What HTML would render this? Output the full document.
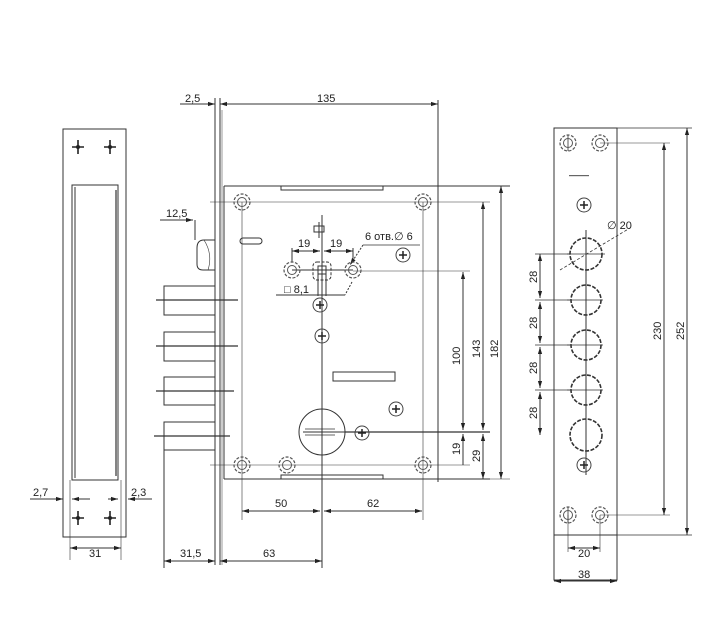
<!DOCTYPE html>
<html><head><meta charset="utf-8"><style>
html,body{margin:0;padding:0;background:#fff;}
svg{display:block}
text{font-family:"Liberation Sans",sans-serif;font-size:11px;fill:#222}
</style></head><body>
<svg width="720" height="635" viewBox="0 0 720 635" xmlns="http://www.w3.org/2000/svg">
<defs>
<marker id="a" viewBox="0 0 10 10" refX="10" refY="5" markerWidth="7" markerHeight="7" orient="auto-start-reverse"><path d="M0,2 L10,5 L0,8 z" fill="#222"/></marker>
<g id="cr"><path d="M-6,0 H6 M0,-7 V7" stroke="#222" stroke-width="1.6"/><circle r="2" fill="#222"/></g>
<g id="sc"><circle r="8" fill="none" stroke="#555" stroke-width="1.2" stroke-dasharray="3,1.5"/><circle r="4.5" fill="none" stroke="#555"/></g>
<g id="ps"><circle r="7" fill="none" stroke="#444"/><path d="M-4,0H4M0,-4V4" stroke="#222" stroke-width="1.5"/></g>
</defs>
<g stroke="#333" stroke-width="1" fill="none">
<rect x="63" y="129" width="63" height="408"/>
<rect x="72" y="185" width="46" height="295"/>
<line x1="75" y1="187" x2="75" y2="478"/>
<line x1="116" y1="190" x2="116" y2="476" stroke-width="1.2"/>
<line x1="70" y1="480" x2="70" y2="560" stroke-width=".6"/>
<line x1="121" y1="480" x2="121" y2="560" stroke-width=".6"/>
<line x1="30" y1="499" x2="63" y2="499" marker-end="url(#a)"/>
<line x1="90" y1="499" x2="72" y2="499" marker-end="url(#a)"/>
<line x1="108" y1="499" x2="118" y2="499" marker-end="url(#a)"/>
<line x1="152" y1="499" x2="128" y2="499" marker-end="url(#a)"/>
<line x1="70" y1="548" x2="121" y2="548" marker-start="url(#a)" marker-end="url(#a)"/>

<line x1="215" y1="98" x2="215" y2="565"/>
<line x1="220" y1="98" x2="220" y2="565"/>
<line x1="222" y1="110" x2="222" y2="565" stroke-width=".5"/>
<line x1="180" y1="104" x2="215" y2="104" marker-end="url(#a)"/>
<line x1="220" y1="104" x2="438" y2="104" marker-start="url(#a)" marker-end="url(#a)"/>
<line x1="438" y1="100" x2="438" y2="482"/>
<path d="M224,186 H510 M224,186 V479 M224,479 H490"/>
<path d="M281,186 V190 H383 V186 M281,479 V475 H383 V479"/>
<line x1="210" y1="202" x2="490" y2="202" stroke-width=".6"/>
<line x1="210" y1="465" x2="470" y2="465" stroke-width=".6"/>
<line x1="242" y1="202" x2="242" y2="520" stroke-width=".6"/>
<line x1="423" y1="202" x2="423" y2="520" stroke-width=".6"/>
<line x1="322" y1="215" x2="322" y2="568"/>
<line x1="160" y1="220" x2="193" y2="220" marker-end="url(#a)"/>
<path d="M195,220 V240 M215,240 H204 Q197,240 197,248 V264 Q197,270 203,270 H215"/>
<path d="M204,240 Q213,254 208,270" stroke-width=".6"/>
<rect x="240" y="238" width="22" height="6" rx="3"/>
<rect x="164" y="286" width="51" height="29"/>
<rect x="164" y="332" width="51" height="29"/>
<rect x="164" y="377" width="51" height="28"/>
<rect x="164" y="422" width="51" height="28"/>
<line x1="164" y1="450" x2="164" y2="568"/>
<g stroke-width="1.3"><line x1="156" y1="300" x2="238" y2="300"/><line x1="156" y1="346" x2="238" y2="346"/><line x1="156" y1="391" x2="234" y2="391"/><line x1="154" y1="436" x2="230" y2="436"/></g>
<line x1="292" y1="270" x2="353" y2="270"/>
<line x1="353" y1="271" x2="470" y2="271" stroke-width=".6"/>
<rect x="313" y="262" width="18" height="18" rx="4" stroke-dasharray="3,1.5"/>
<rect x="318" y="266" width="8" height="8"/>
<path d="M318,274 V296 M326,274 V296"/>
<line x1="276" y1="295" x2="345" y2="295"/>
<line x1="292" y1="248" x2="292" y2="262"/><line x1="353" y1="248" x2="353" y2="262"/>
<line x1="292" y1="251" x2="320" y2="251" marker-start="url(#a)" marker-end="url(#a)"/>
<line x1="324" y1="251" x2="353" y2="251" marker-start="url(#a)" marker-end="url(#a)"/>
<line x1="363" y1="245" x2="350" y2="265" marker-end="url(#a)" stroke-dasharray="2,1.5"/>
<line x1="352" y1="282" x2="345" y2="295" stroke-dasharray="2,1.5"/>
<line x1="363" y1="245" x2="420" y2="245" stroke-width=".7"/>
<rect x="333" y="372" width="62" height="9"/>
<circle cx="322" cy="432" r="23"/>
<path d="M303,432 H345"/>
<path d="M305,429 H335 M305,435 H335" stroke-width=".8"/>
<line x1="345" y1="432" x2="490" y2="432" stroke-width="1.3"/>
<line x1="463" y1="272" x2="463" y2="430" marker-start="url(#a)" marker-end="url(#a)"/>
<line x1="463" y1="434" x2="463" y2="465" marker-start="url(#a)"/>
<line x1="483" y1="202" x2="483" y2="430" marker-start="url(#a)" marker-end="url(#a)"/>
<line x1="483" y1="434" x2="483" y2="479" marker-start="url(#a)" marker-end="url(#a)"/>
<line x1="501" y1="186" x2="501" y2="479" marker-start="url(#a)" marker-end="url(#a)"/>
<line x1="438" y1="479" x2="510" y2="479" stroke-width=".6"/>
<line x1="242" y1="511" x2="320" y2="511" marker-start="url(#a)" marker-end="url(#a)"/>
<line x1="324" y1="511" x2="422" y2="511" marker-start="url(#a)" marker-end="url(#a)"/>
<line x1="164" y1="561" x2="215" y2="561" marker-start="url(#a)" marker-end="url(#a)"/>
<line x1="220" y1="561" x2="322" y2="561" marker-start="url(#a)" marker-end="url(#a)"/>

<rect x="554" y="128" width="63" height="452"/>
<line x1="617" y1="128" x2="692" y2="128" stroke-width=".7"/>
<line x1="617" y1="535" x2="692" y2="535" stroke-width=".7"/>
<line x1="554" y1="535" x2="617" y2="535"/>
<line x1="600" y1="143" x2="670" y2="143" stroke-width=".5"/>
<line x1="600" y1="515" x2="670" y2="515" stroke-width=".5"/>
<line x1="687" y1="128" x2="687" y2="535" marker-start="url(#a)" marker-end="url(#a)"/>
<line x1="664" y1="143" x2="664" y2="515" marker-start="url(#a)" marker-end="url(#a)"/>
<line x1="586" y1="230" x2="586" y2="475"/>
<g stroke-width="1.6" stroke-dasharray="4,1.5">
<circle cx="586" cy="254" r="16"/><circle cx="586" cy="300" r="15"/><circle cx="586" cy="345" r="15"/><circle cx="586" cy="390" r="15"/><circle cx="586" cy="435" r="16"/>
</g>
<path d="M567,254H605 M567,300H603 M567,345H603 M567,390H603" stroke-width=".8"/>
<line x1="560" y1="270" x2="630" y2="228" stroke-dasharray="3,2" stroke-width=".8"/>
<line x1="540" y1="254" x2="540" y2="298" marker-start="url(#a)" marker-end="url(#a)"/>
<line x1="540" y1="302" x2="540" y2="343" marker-start="url(#a)" marker-end="url(#a)"/>
<line x1="540" y1="347" x2="540" y2="388" marker-start="url(#a)" marker-end="url(#a)"/>
<line x1="540" y1="392" x2="540" y2="435" marker-start="url(#a)" marker-end="url(#a)"/>
<path d="M535,254H570 M535,300H570 M535,345H570 M535,390H570" stroke-width=".7"/>
<line x1="568" y1="515" x2="568" y2="552" stroke-width=".6"/>
<line x1="600" y1="515" x2="600" y2="552" stroke-width=".6"/>
<line x1="568" y1="548" x2="600" y2="548" marker-start="url(#a)" marker-end="url(#a)"/>
<line x1="554" y1="581" x2="617" y2="581" marker-start="url(#a)" marker-end="url(#a)"/>
<path d="M568,135V151 M568,507V523" stroke-width=".8"/>
</g>
<g fill="#666"><rect x="569" y="175" width="20" height="1.2"/></g>
<use href="#cr" x="78" y="147"/><use href="#cr" x="110" y="147"/>
<use href="#cr" x="78" y="518"/><use href="#cr" x="110" y="518"/>
<use href="#sc" x="242" y="202"/><use href="#sc" x="423" y="202"/>
<use href="#sc" x="242" y="465"/><use href="#sc" x="423" y="465"/><use href="#sc" x="287" y="465"/>
<use href="#sc" x="292" y="270"/><use href="#sc" x="353" y="270"/>
<use href="#ps" x="403" y="255"/><use href="#ps" x="320" y="305"/><use href="#ps" x="322" y="336"/>
<use href="#ps" x="396" y="409"/><use href="#ps" x="362" y="433"/>
<use href="#sc" x="568" y="143"/><use href="#sc" x="600" y="143"/>
<use href="#sc" x="568" y="515"/><use href="#sc" x="600" y="515"/>
<use href="#ps" x="584" y="205"/><use href="#ps" x="584" y="465"/>
<path d="M319,222 V238 M314,226 H324 V232 H314 z" stroke="#333" fill="none"/>
<text x="185" y="102">2,5</text>
<text x="317" y="102">135</text>
<text x="166" y="217">12,5</text>
<text x="298" y="247">19</text>
<text x="330" y="247">19</text>
<text x="365" y="240" font-size="10">6 отв.∅ 6</text>
<text x="284" y="293">□ 8,1</text>
<text x="33" y="496">2,7</text>
<text x="131" y="496">2,3</text>
<text x="89" y="557">31</text>
<text x="180" y="557">31,5</text>
<text x="263" y="557">63</text>
<text x="275" y="507">50</text>
<text x="367" y="507">62</text>
<text x="607" y="229">∅ 20</text>
<text x="578" y="557">20</text>
<text x="578" y="578">38</text>
<g font-size="11">
<text transform="translate(460,365) rotate(-90)">100</text>
<text transform="translate(480,358) rotate(-90)">143</text>
<text transform="translate(498,358) rotate(-90)">182</text>
<text transform="translate(460,455) rotate(-90)">19</text>
<text transform="translate(480,462) rotate(-90)">29</text>
<text transform="translate(537,283) rotate(-90)">28</text>
<text transform="translate(537,329) rotate(-90)">28</text>
<text transform="translate(537,374) rotate(-90)">28</text>
<text transform="translate(537,419) rotate(-90)">28</text>
<text transform="translate(661,340) rotate(-90)">230</text>
<text transform="translate(684,340) rotate(-90)">252</text>
</g>
</svg>
</body></html>
